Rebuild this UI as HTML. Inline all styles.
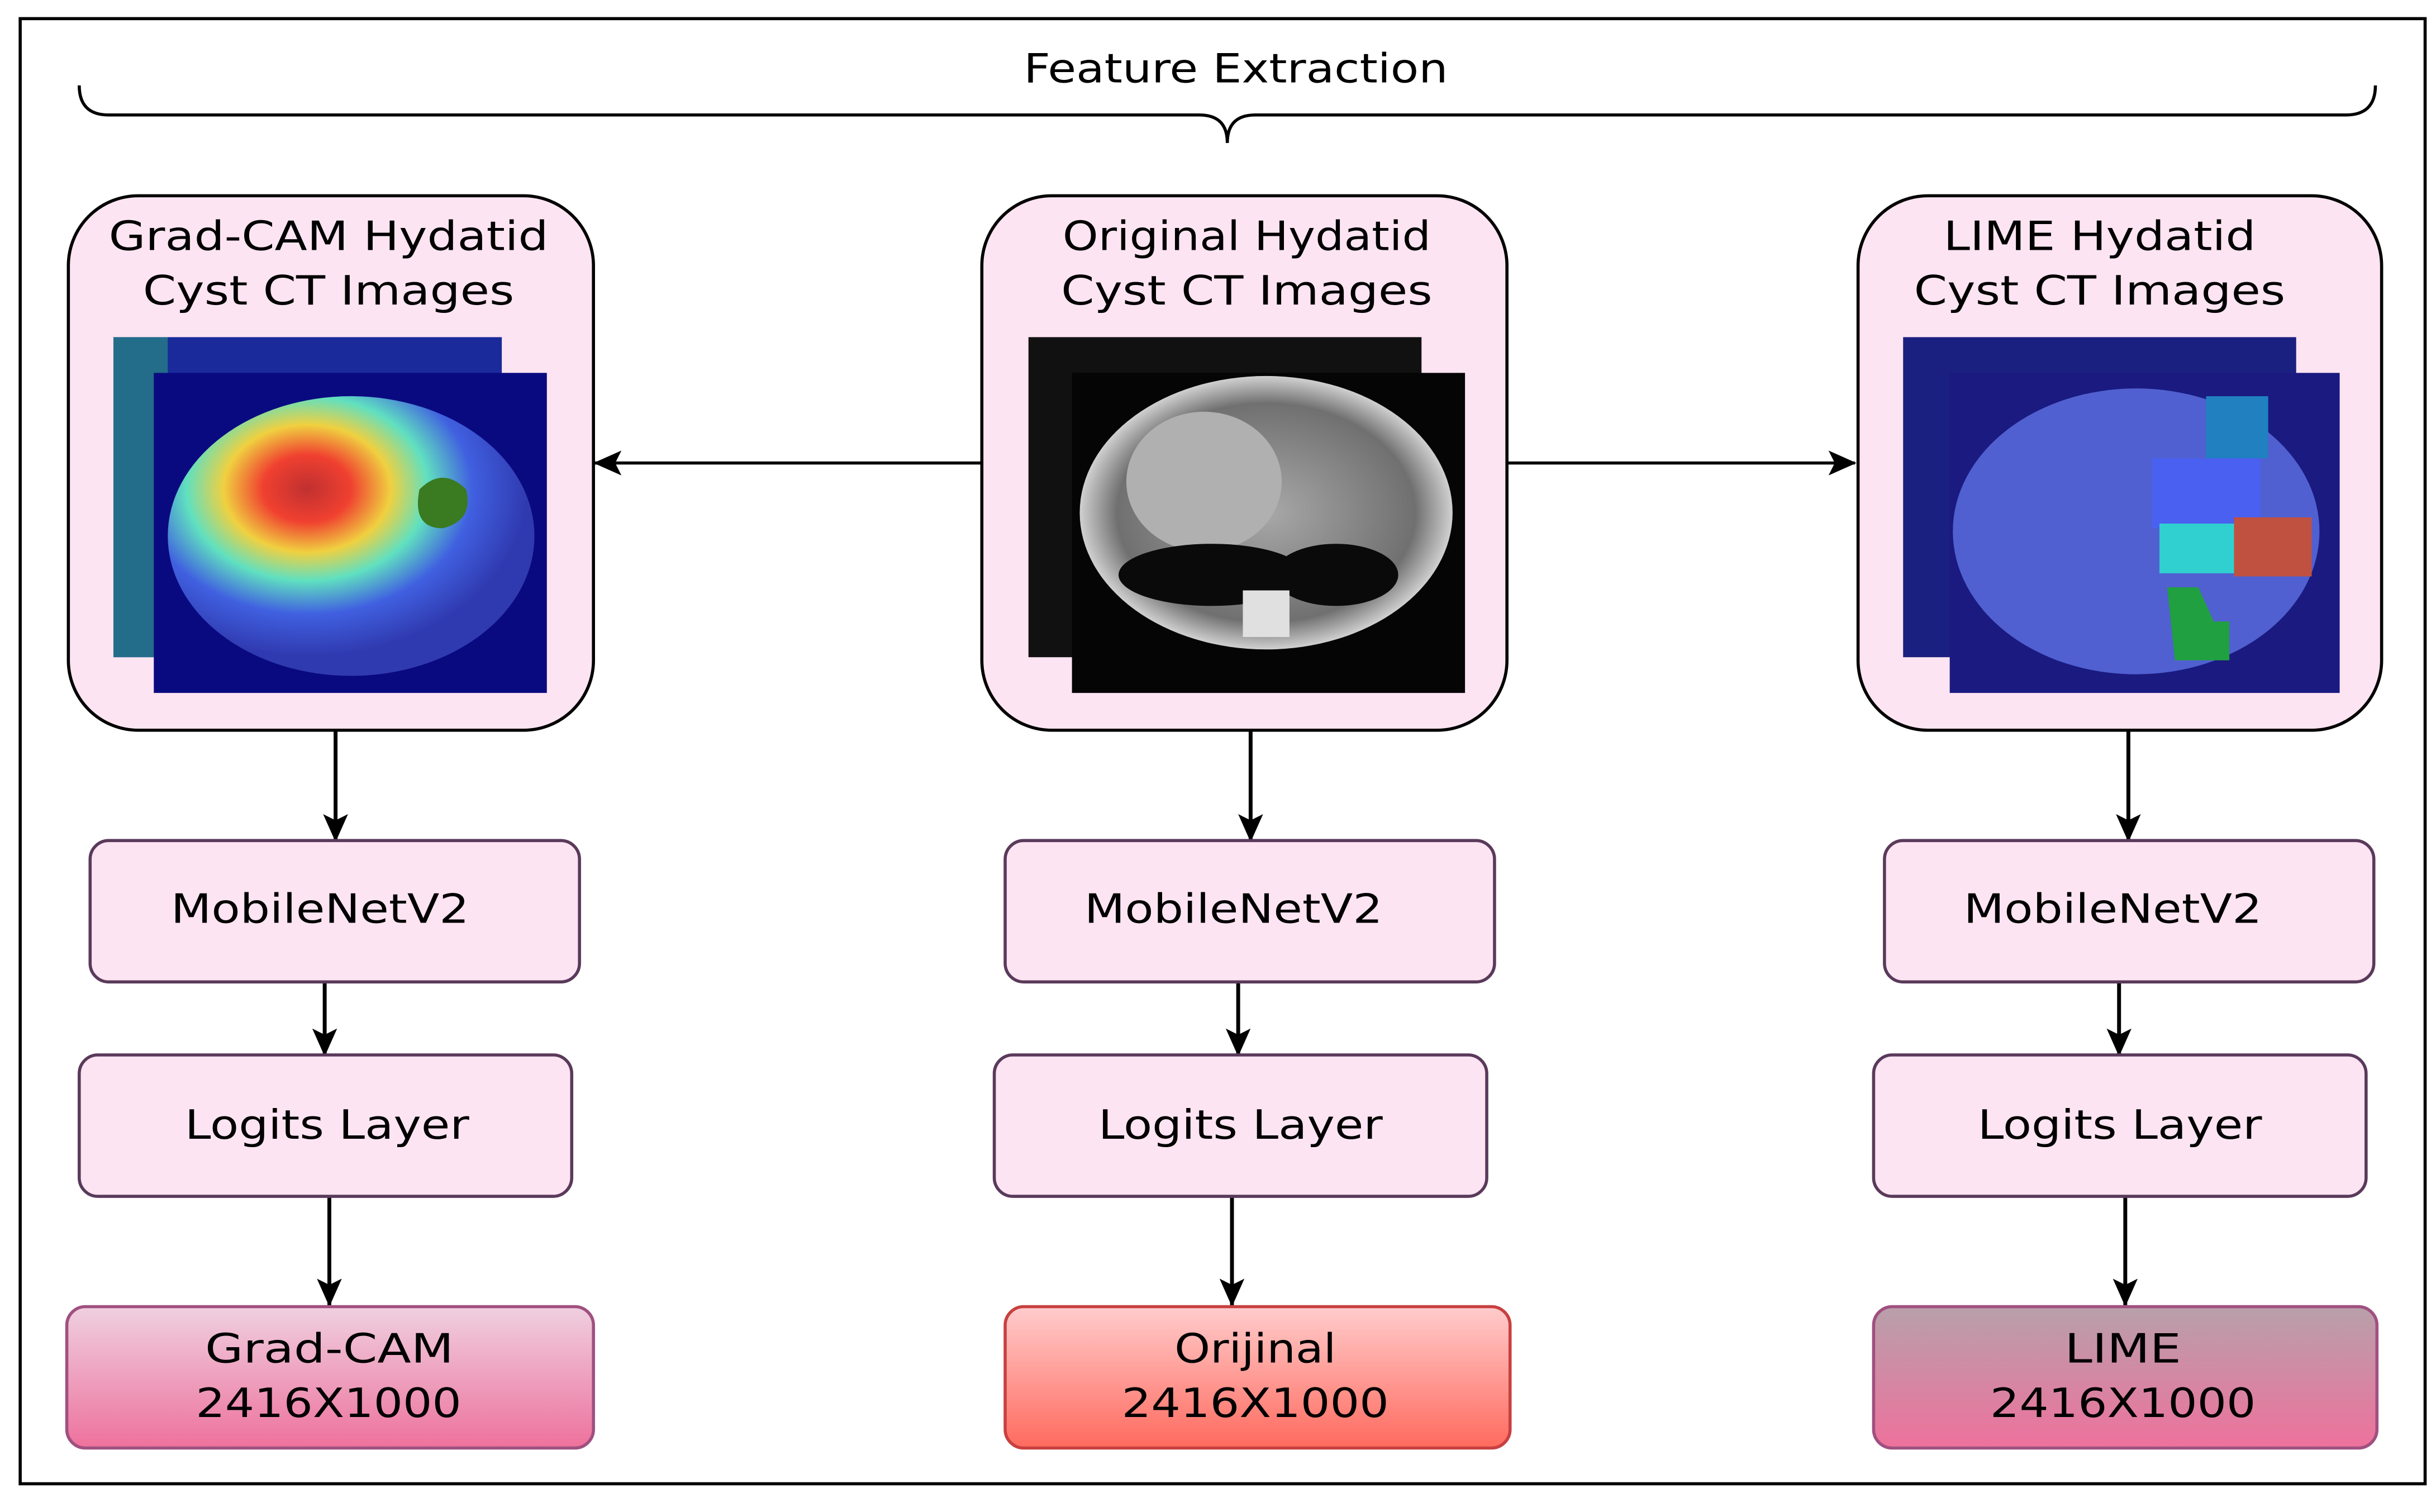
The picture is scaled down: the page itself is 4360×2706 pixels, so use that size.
<!DOCTYPE html>
<html><head><style>
html,body{margin:0;padding:0;background:#fff;}
#w{width:1568px;height:968px;transform:scale(2.7806);transform-origin:0 0;position:relative;}
svg text{font-family:"DejaVu Sans","Liberation Sans",sans-serif;}
</style></head><body><div id="w">
<svg width="1568" height="968" viewBox="0 0 1568 968" xmlns="http://www.w3.org/2000/svg">
<defs>
<marker id="ah" markerWidth="18" markerHeight="16" refX="17" refY="8" orient="auto" markerUnits="userSpaceOnUse">
<path d="M0,0 L18,8 L0,16 L4,8 Z" fill="#000"/></marker>
<linearGradient id="g1" x1="0" y1="0" x2="0" y2="1"><stop offset="0" stop-color="#efd0e0"/><stop offset="1" stop-color="#ee719c"/></linearGradient>
<linearGradient id="g2" x1="0" y1="0" x2="0" y2="1"><stop offset="0" stop-color="#ffcccc"/><stop offset="1" stop-color="#ff6a5e"/></linearGradient>
<linearGradient id="g3" x1="0" y1="0" x2="0" y2="1"><stop offset="0" stop-color="#b8a0aa"/><stop offset="1" stop-color="#ee719c"/></linearGradient>
<radialGradient id="jet" cx="0.38" cy="0.33" r="0.6"><stop offset="0" stop-color="#c03030"/><stop offset="0.2" stop-color="#f04030"/><stop offset="0.38" stop-color="#f0d040"/><stop offset="0.55" stop-color="#60e0c0"/><stop offset="0.75" stop-color="#4060e0"/><stop offset="1" stop-color="#303ab0"/></radialGradient>
<radialGradient id="ct" cx="0.5" cy="0.5" r="0.5"><stop offset="0" stop-color="#a8a8a8"/><stop offset="0.8" stop-color="#707070"/><stop offset="1" stop-color="#d0d0d0"/></radialGradient>
</defs>
<rect x="13" y="12" width="1548" height="943" fill="none" stroke="#000" stroke-width="2"/>
<text x="659" y="53" font-size="26" textLength="273" lengthAdjust="spacingAndGlyphs">Feature Extraction</text>
<path d="M51,55 Q51,74 70,74 L772,74 Q790,74 790,92 Q790,74 808,74 L1510,74 Q1529,74 1529,55" fill="none" stroke="#000" stroke-width="2"/>
<rect x="44" y="126" width="338" height="344" rx="45" fill="#fde4f2" stroke="#000" stroke-width="2"/>
<rect x="632" y="126" width="338" height="344" rx="45" fill="#fde4f2" stroke="#000" stroke-width="2"/>
<rect x="1196" y="126" width="337" height="344" rx="45" fill="#fde4f2" stroke="#000" stroke-width="2"/>
<g font-size="26" lengthAdjust="spacingAndGlyphs">
<text x="70" y="161" textLength="283" lengthAdjust="spacingAndGlyphs">Grad-CAM Hydatid</text>
<text x="92" y="196" textLength="239" lengthAdjust="spacingAndGlyphs">Cyst CT Images</text>
<text x="684" y="161" textLength="237" lengthAdjust="spacingAndGlyphs">Original Hydatid</text>
<text x="683" y="196" textLength="239" lengthAdjust="spacingAndGlyphs">Cyst CT Images</text>
<text x="1251" y="161" textLength="201" lengthAdjust="spacingAndGlyphs">LIME Hydatid</text>
<text x="1232" y="196" textLength="239" lengthAdjust="spacingAndGlyphs">Cyst CT Images</text>
</g>
<rect x="73" y="217" width="250" height="206" fill="#1a2a9a"/>
<rect x="73" y="217" width="35" height="206" fill="#2a9a80" opacity="0.6"/>
<rect x="99" y="240" width="253" height="206" fill="#0a0a80"/>
<ellipse cx="226" cy="345" rx="118" ry="90" fill="url(#jet)"/>
<path d="M270,315 q15,-15 30,0 q5,20 -15,25 q-20,0 -15,-25z" fill="#3a7a20"/>
<rect x="662" y="217" width="253" height="206" fill="#111"/>
<rect x="690" y="240" width="253" height="206" fill="#050505"/>
<ellipse cx="815" cy="330" rx="120" ry="88" fill="url(#ct)"/>
<ellipse cx="775" cy="310" rx="50" ry="45" fill="#b0b0b0"/>
<ellipse cx="780" cy="370" rx="60" ry="20" fill="#0a0a0a"/>
<ellipse cx="860" cy="370" rx="40" ry="20" fill="#0a0a0a"/>
<rect x="800" y="380" width="30" height="30" fill="#e0e0e0"/>
<rect x="1225" y="217" width="253" height="206" fill="#1a2080"/>
<rect x="1255" y="240" width="251" height="206" fill="#1a1a80"/>
<ellipse cx="1375" cy="342" rx="118" ry="92" fill="#5060d0"/>
<rect x="1420" y="255" width="40" height="40" fill="#2080c0"/>
<rect x="1385" y="295" width="70" height="45" fill="#4a60f0"/>
<rect x="1390" y="337" width="48" height="32" fill="#30d0d0"/>
<rect x="1438" y="333" width="50" height="38" fill="#c05040"/>
<path d="M1395,378 l20,0 l10,22 l10,0 l0,25 l-35,0 z" fill="#20a040"/>
<line x1="632" y1="298" x2="383" y2="298" stroke="#000" stroke-width="2" marker-end="url(#ah)"/>
<line x1="970" y1="298" x2="1194" y2="298" stroke="#000" stroke-width="2" marker-end="url(#ah)"/>
<g stroke="#000" stroke-width="2.5" marker-end="url(#ah)">
<line x1="216" y1="470" x2="216" y2="541"/><line x1="805" y1="470" x2="805" y2="541"/><line x1="1370" y1="470" x2="1370" y2="541"/>
<line x1="209" y1="632" x2="209" y2="679"/><line x1="797" y1="632" x2="797" y2="679"/><line x1="1364" y1="632" x2="1364" y2="679"/>
<line x1="212" y1="770" x2="212" y2="840"/><line x1="793" y1="770" x2="793" y2="840"/><line x1="1368" y1="770" x2="1368" y2="840"/>
</g>
<g fill="#fde4f2" stroke="#5a3a5a" stroke-width="2">
<rect x="58" y="541" width="315" height="91" rx="12"/><rect x="647" y="541" width="315" height="91" rx="12"/><rect x="1213" y="541" width="315" height="91" rx="12"/>
<rect x="51" y="679" width="317" height="91" rx="12"/><rect x="640" y="679" width="317" height="91" rx="12"/><rect x="1206" y="679" width="317" height="91" rx="12"/>
</g>
<rect x="43" y="841" width="339" height="91" rx="12" fill="url(#g1)" stroke="#a05080" stroke-width="2"/>
<rect x="647" y="841" width="325" height="91" rx="12" fill="url(#g2)" stroke="#c84040" stroke-width="2"/>
<rect x="1206" y="841" width="324" height="91" rx="12" fill="url(#g3)" stroke="#a05080" stroke-width="2"/>
<g font-size="26">
<text x="110" y="594" textLength="192" lengthAdjust="spacingAndGlyphs">MobileNetV2</text>
<text x="698" y="594" textLength="192" lengthAdjust="spacingAndGlyphs">MobileNetV2</text>
<text x="1264" y="594" textLength="192" lengthAdjust="spacingAndGlyphs">MobileNetV2</text>
<text x="119" y="733" textLength="183" lengthAdjust="spacingAndGlyphs">Logits Layer</text>
<text x="707" y="733" textLength="183" lengthAdjust="spacingAndGlyphs">Logits Layer</text>
<text x="1273" y="733" textLength="183" lengthAdjust="spacingAndGlyphs">Logits Layer</text>
<text x="132" y="877" textLength="160" lengthAdjust="spacingAndGlyphs">Grad-CAM</text>
<text x="126" y="912" textLength="171" lengthAdjust="spacingAndGlyphs">2416X1000</text>
<text x="756" y="877" textLength="104" lengthAdjust="spacingAndGlyphs">Orijinal</text>
<text x="722" y="912" textLength="172" lengthAdjust="spacingAndGlyphs">2416X1000</text>
<text x="1329" y="877" textLength="75" lengthAdjust="spacingAndGlyphs">LIME</text>
<text x="1281" y="912" textLength="171" lengthAdjust="spacingAndGlyphs">2416X1000</text>
</g>
</svg></div></body></html>
